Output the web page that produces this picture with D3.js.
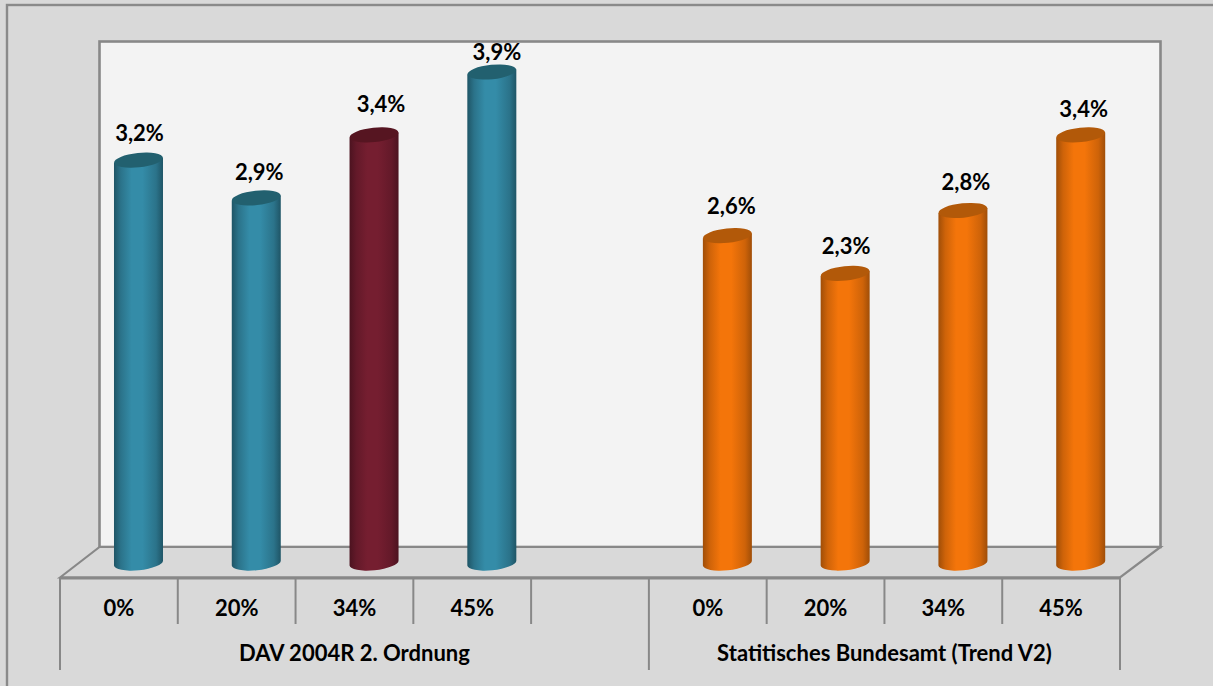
<!DOCTYPE html>
<html><head><meta charset="utf-8">
<script src="https://cdn.jsdelivr.net/npm/d3@7/dist/d3.min.js"></script>
<style>html,body{margin:0;padding:0;background:#e4e4e4}svg{display:block}</style>
</head><body><svg id="c" width="1213" height="686"></svg>
<script>
const categories = ["0%","20%","34%","45%","","0%","20%","34%","45%"];
const slots = ["a0","a20","a34","a45","gap","b0","b20","b34","b45"];
const values = [3.2,2.9,3.4,3.9,null,2.6,2.3,2.8,3.4];
const valueLabels = ["3,2%","2,9%","3,4%","3,9%","","2,6%","2,3%","2,8%","3,4%"];
const barColors = ["teal","teal","maroon","teal",null,"orange","orange","orange","orange"];
const groups = [{name:"DAV 2004R 2. Ordnung",from:0,to:4},{name:"Statitisches Bundesamt (Trend V2)",from:5,to:8}];
// manually placed data labels of the original chart: offset from the bar top
const labelDx = [1,3,7,5,0,4,1,3,3];
const labelDy = [19,18,23,12,0,22,19,20,18];
const palette = {
  teal:{edge:"#1f5566",mid:"#348ca8",top:"#22606f"},
  maroon:{edge:"#4c1320",mid:"#751e30",top:"#561521"},
  orange:{edge:"#a04e08",mid:"#f4750a",top:"#b25909"}
};
const svg = d3.select("#c");
const FONT = "Lato, Carlito, 'Open Sans', sans-serif";
const LINE = "#888888";
const x = d3.scaleBand().domain(slots).range([60,1120]);
const y = d3.scaleLinear().domain([0,3.9]).range([563,72]);
const depthX = 19.6, rx = 24.5, ry = 7.2, tilt = -6;

const defs = svg.append("defs");
Object.entries(palette).forEach(([k,c])=>{
  const g = defs.append("linearGradient").attr("id","g-"+k);
  [[0,c.edge],[.14,d3.interpolateRgb(c.edge,c.mid)(.55)],[.36,c.mid],[.58,c.mid],[.86,d3.interpolateRgb(c.edge,c.mid)(.55)],[1,c.edge]]
   .forEach(([o,col])=>g.append("stop").attr("offset",o).attr("stop-color",col));
});

svg.append("rect").attr("width",1213).attr("height",686).attr("fill","#d9d9d9");
svg.append("rect").attr("x",7).attr("y",5).attr("width",1300).attr("height",800).attr("fill","#d9d9d9").attr("stroke","#8a8a8a").attr("stroke-width",2.4);
// back wall
svg.append("rect").attr("x",99.5).attr("y",41.5).attr("width",1061).attr("height",505.5).attr("fill","#f3f3f3").attr("stroke",LINE).attr("stroke-width",2.6);
// floor
svg.append("path").attr("d","M60,577.5L99.5,547H1160.5L1120,577.5Z").attr("fill","#d9d9d9").attr("stroke",LINE).attr("stroke-width",2.2);
svg.append("line").attr("x1",60).attr("x2",1120).attr("y1",578).attr("y2",578).attr("stroke",LINE).attr("stroke-width",3);

// axis ticks
const edges = slots.map(s=>x(s)).concat([x.range()[1]]);
edges.forEach((e,i)=>{
  const long = i===0||i===5||i===9;
  svg.append("line").attr("x1",e).attr("x2",e).attr("y1",578).attr("y2",long?670:624).attr("stroke",LINE).attr("stroke-width",2);
});

// cylinders
const bars = svg.append("g").selectAll("g").data(values.map((v,i)=>({v,i})).filter(d=>d.v!==null)).join("g");
bars.each(function(d){
  const g=d3.select(this), c=palette[barColors[d.i]], cx=x(slots[d.i])+x.bandwidth()/2+depthX, top=y(d.v), bot=y(0);
  const L=cx-rx, R=cx+rx;
  g.append("path").attr("fill",`url(#g-${barColors[d.i]})`)
   .attr("d",`M${L},${top+2.5}L${L},${bot+2.5}A${rx},${ry} ${tilt} 0 0 ${R},${bot-2.5}L${R},${top-2.5}Z`);
  g.append("ellipse").attr("cx",cx).attr("cy",top).attr("rx",rx).attr("ry",ry)
   .attr("transform",`rotate(${tilt} ${cx} ${top})`).attr("fill",c.top);
  g.append("text").attr("x",cx+labelDx[d.i]).attr("y",top-labelDy[d.i]).attr("text-anchor","middle")
   .attr("font-family",FONT).attr("font-weight",700).attr("font-size",22).attr("fill","#000").text(valueLabels[d.i]);
});

// category labels
svg.append("g").selectAll("text").data(categories.map((c,i)=>({c,i})).filter(d=>d.c)).join("text")
 .attr("x",d=>x(slots[d.i])+x.bandwidth()/2).attr("y",616).attr("text-anchor","middle")
 .attr("font-family",FONT).attr("font-weight",700).attr("font-size",22).text(d=>d.c);
svg.append("g").selectAll("text").data(groups).join("text")
 .attr("x",d=>(x(slots[d.from])+x(slots[d.to])+x.bandwidth())/2).attr("y",661).attr("text-anchor","middle")
 .attr("font-family",FONT).attr("font-weight",700).attr("font-size",22).text(d=>d.name);
</script></body></html>
